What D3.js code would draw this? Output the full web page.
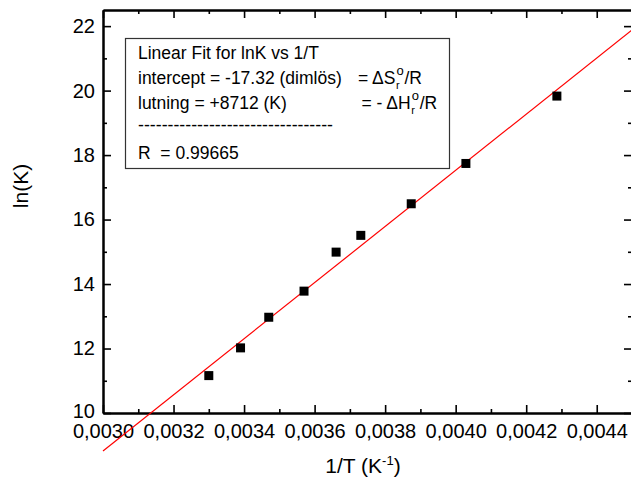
<!DOCTYPE html>
<html><head><meta charset="utf-8">
<script src="https://cdn.jsdelivr.net/npm/d3@7"></script>
<style>
html,body{margin:0;padding:0;background:#fff;}
text{font-family:"Liberation Sans",Arial,Helvetica,sans-serif;fill:#000;white-space:pre;}
</style></head>
<body><div id="chart"></div>
<script>
// ---- data ----
const invT = [0.00330, 0.00339, 0.00347, 0.00357, 0.003661, 0.003731, 0.003874, 0.004029, 0.004287];
const lnK  = [11.16, 12.02, 12.97, 13.78, 14.99, 15.51, 16.49, 17.74, 19.83];
const fitX = [0.0030, 0.0045];
const fitY = [8.82, 21.88];
const xTickValues = [0.0030, 0.0032, 0.0034, 0.0036, 0.0038, 0.0040, 0.0042, 0.0044];
const xTickLabels = ["0,0030","0,0032","0,0034","0,0036","0,0038","0,0040","0,0042","0,0044"];
const xMinorValues = [0.0031, 0.0033, 0.0035, 0.0037, 0.0039, 0.0041, 0.0043];
const yTickValues = [10, 12, 14, 16, 18, 20, 22];
const yTickLabels = ["10","12","14","16","18","20","22"];
const yMinorValues = [11, 13, 15, 17, 19, 21];
const legendLines = [
  "Linear Fit for lnK vs 1/T",
  "intercept = -17.32 (dimlös)",
  "lutning = +8712 (K)",
  "---------------------------------",
  "R  = 0.99665"
];
const legendRight = [null, "= \u0394S", "= - \u0394H", null, null];

// ---- layout ----
const W = 631, H = 483;
const L = 103, R = 632, T = 10, B = 413;
const svg = d3.select("#chart").append("svg").attr("width", W).attr("height", H);

const x = d3.scaleLinear().domain([0.0030, 0.0045]).range([L, R]);
const y = d3.scaleLinear().domain([10, 22.5]).range([B, T]);

function styleAxis(g){
  g.selectAll("path.domain").attr("stroke","#000").attr("stroke-width",2);
  g.selectAll(".tick line").attr("stroke","#000").attr("stroke-width",1.6);
}
const FF = '"Liberation Sans",Arial,sans-serif';

// bottom
const gB = svg.append("g").attr("transform",`translate(0,${B})`)
  .call(d3.axisBottom(x).tickValues(xTickValues).tickFormat((d,i)=>xTickLabels[i]).tickSize(-8).tickSizeOuter(0).tickPadding(11));
styleAxis(gB);
gB.selectAll("text").attr("font-size",20).attr("font-family",FF);
const gBm = svg.append("g").attr("transform",`translate(0,${B})`)
  .call(d3.axisBottom(x).tickValues(xMinorValues).tickFormat("").tickSize(-4).tickSizeOuter(0));
styleAxis(gBm);
// top
const gT = svg.append("g").attr("transform",`translate(0,${T})`)
  .call(d3.axisTop(x).tickValues(xTickValues).tickFormat("").tickSize(-8).tickSizeOuter(0));
styleAxis(gT);
const gTm = svg.append("g").attr("transform",`translate(0,${T})`)
  .call(d3.axisTop(x).tickValues(xMinorValues).tickFormat("").tickSize(-4).tickSizeOuter(0));
styleAxis(gTm);
// left
const gL = svg.append("g").attr("transform",`translate(${L},0)`)
  .call(d3.axisLeft(y).tickValues(yTickValues).tickFormat((d,i)=>yTickLabels[i]).tickSize(-8).tickSizeOuter(0).tickPadding(8));
styleAxis(gL);
gL.selectAll("text").attr("font-size",20).attr("font-family",FF);
gL.selectAll(".tick").filter(d=>d===10).select("text").attr("dy","0.22em");
const gLm = svg.append("g").attr("transform",`translate(${L},0)`)
  .call(d3.axisLeft(y).tickValues(yMinorValues).tickFormat("").tickSize(-4).tickSizeOuter(0));
styleAxis(gLm);
// right
const gR = svg.append("g").attr("transform",`translate(${R},0)`)
  .call(d3.axisRight(y).tickValues(yTickValues).tickFormat("").tickSize(-8).tickSizeOuter(0));
styleAxis(gR);
const gRm = svg.append("g").attr("transform",`translate(${R},0)`)
  .call(d3.axisRight(y).tickValues(yMinorValues).tickFormat("").tickSize(-4).tickSizeOuter(0));
styleAxis(gRm);

// axis titles
svg.append("text").attr("x", 363).attr("y", 473).attr("text-anchor","middle")
  .attr("font-size",21)
  .html('1/T (K<tspan font-size="13" dy="-8">-1</tspan><tspan dy="8">)</tspan>');
svg.append("text").attr("transform","translate(28,186) rotate(-90)").attr("text-anchor","middle")
  .attr("font-size",21).text("ln(K)");

// fit line
svg.append("line")
  .attr("x1", x(fitX[0])).attr("y1", y(fitY[0]))
  .attr("x2", x(fitX[1])).attr("y2", y(fitY[1]))
  .attr("stroke","#ff0000").attr("stroke-width",1.2);

// points
const s = 9;
svg.append("g").selectAll("rect").data(invT).join("rect")
  .attr("x",(d)=>x(d)-s/2).attr("y",(d,i)=>y(lnK[i])-s/2)
  .attr("width",s).attr("height",s).attr("fill","#000");

// legend box
const lg = svg.append("g");
lg.append("rect").attr("x",125.5).attr("y",38.5).attr("width",324).attr("height",130)
  .attr("fill","#fff").attr("stroke","#333").attr("stroke-width",1.2);
const baselines = [59, 84, 109, 134, 159];
const lx = 138, fs = 17.5;
legendLines.forEach((t,i)=>{
  const el = lg.append("text").attr("x",lx).attr("y",baselines[i]).attr("font-size",fs).text(t);
  if (i===3) el.attr("textLength",195).attr("lengthAdjust","spacingAndGlyphs").attr("y",baselines[i]-3);
});
const rx = [null, 358, 361.5, null, null];
legendRight.forEach((t,i)=>{
  if(!t) return;
  const el = lg.append("text").attr("x",rx[i]).attr("y",baselines[i]).attr("font-size",fs).text(t);
  const len = el.node().getComputedTextLength();
  const sx = rx[i] + len + 0.5;
  lg.append("text").attr("x",sx).attr("y",baselines[i]+5).attr("font-size",11).text("r");
  lg.append("text").attr("x",sx+0.5).attr("y",baselines[i]-9).attr("font-size",13).text("o");
  lg.append("text").attr("x",sx+8.5).attr("y",baselines[i]).attr("font-size",fs).text("/R");
});
</script></body></html>
